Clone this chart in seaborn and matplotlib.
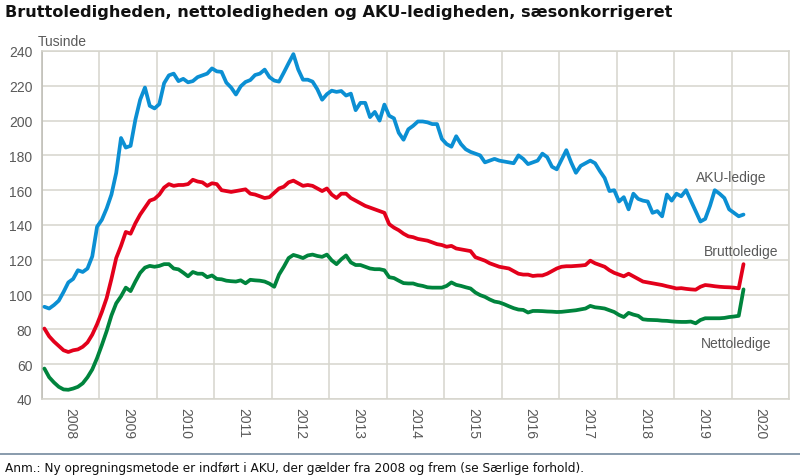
import numpy as np
import pandas as pd
import matplotlib
matplotlib.use("Agg")
import matplotlib.pyplot as plt
import seaborn as sns

# monthly, seasonally adjusted, thousands (Jan 2008 - Mar 2020)
months = pd.period_range("2008-01", "2020-03", freq="M")

aku = [
    93, 92, 94, 96.5, 101.5, 107, 109, 114, 113, 115, 122, 139,
    143, 149.5, 157.5, 170, 190, 184.5, 185.5, 200.5, 212, 219, 208.5, 207,
    209.5, 221.5, 226, 227, 222.7, 224, 222, 222.7, 225, 226, 227, 230,
    228.3, 228, 221.8, 219, 215, 219.7, 222.2, 223.3, 226.2, 227, 229.3, 225,
    223, 222.4, 227.6, 233, 238.2, 229.4, 223.5, 223.5, 222.4, 218, 212, 215.2,
    217.2, 216.5, 217, 214.4, 215.5, 206, 210.2, 210.2, 202, 205, 200, 209.2,
    202.8, 201.3, 193, 189, 195, 197, 199.5, 199.5, 199, 198, 198, 189.5,
    186.5, 185, 191, 186.5, 183.5, 182, 181, 180, 176, 177, 178, 177,
    176.5, 176, 175.5, 180, 178, 175, 176, 177, 181, 179, 173.5, 172,
    177.5, 183, 176, 170, 174, 175.5, 177, 175.5, 171, 167, 159.5, 160,
    153.5, 156, 149, 158, 155, 154, 153.5, 147, 148, 145, 157.5, 154,
    158, 156.5, 160, 154, 148, 142, 143.5, 151, 160, 158, 155.5, 149,
    147, 145, 146,
]

brutto = [
    80.5, 76, 73, 70.5, 68, 67, 68, 68.5, 70, 72.5, 77, 83,
    90, 98, 109, 121, 128, 136, 135, 141, 146, 150, 154, 155,
    157.5, 161.5, 163.5, 162.5, 163, 163, 163.5, 166, 165, 164.5, 162.5, 164,
    163.5, 160, 159.5, 159, 159.5, 160, 160.5, 158, 157.5, 156.5, 155.5, 156,
    158.5, 161, 162, 164.5, 165.5, 164, 162.5, 163, 162.5, 161, 159.5, 161,
    157.5, 155.5, 158, 158, 155.5, 154, 152.5, 151, 150, 149, 148, 147,
    140.5, 138.5, 137, 135, 133.5, 133, 132, 131.5, 131, 130, 129, 128.5,
    127.5, 128, 126.5, 126, 125.5, 125, 121.5, 120.5, 119.5, 118, 117, 116,
    115.5, 115, 113.5, 112, 111.5, 111.5, 110.7, 111, 111, 112, 113.5, 115,
    116, 116.3, 116.3, 116.5, 116.7, 117, 119.5, 118, 117, 116, 114, 112.5,
    111.5, 110.5, 112, 110.5, 109, 107.5, 107, 106.5, 106, 105.5, 104.8, 104.2,
    103.5, 103.7, 103.3, 103, 102.8, 104.5, 105.5, 105.2, 104.8, 104.5, 104.3, 104.2,
    104, 103.6, 117.5,
]

netto = [
    57.5, 52.5, 49.5, 47, 45.5, 45.3, 46, 47, 49, 52.5, 57, 63.5,
    71, 79, 88, 95, 99, 104, 102, 107.5, 112.5, 115.5, 116.5, 116,
    116.5, 117.5, 117.5, 115, 114.5, 112.6, 110.5, 113, 112, 112, 110, 111,
    109, 108.8, 108, 107.7, 107.5, 108.2, 106.5, 108.5, 108.2, 108, 107.5, 106.3,
    104.5, 111.5, 116, 121, 122.8, 122, 121, 122.5, 123, 122.2, 121.7, 123,
    119.7, 117.5, 120.3, 122.5, 118.5, 117, 117, 116, 115, 114.6, 114.6, 114,
    110, 109.5, 108, 106.6, 106.4, 106.4, 105.5, 105, 104.2, 104, 104, 104,
    105, 107, 105.6, 105, 104.2, 103.5, 101.2, 99.7, 98.7, 97.2, 96, 95.5,
    94.5, 93.3, 92.2, 91.4, 91.2, 89.7, 90.6, 90.6, 90.5, 90.3, 90.2, 90,
    90.1, 90.4, 90.7, 91, 91.5, 92, 93.5, 92.7, 92.4, 92, 91, 90,
    88.3, 87.1, 89.5, 88.5, 87.8, 85.8, 85.5, 85.4, 85.3, 85, 84.9, 84.6,
    84.4, 84.3, 84.3, 84.5, 83.5, 85.4, 86.4, 86.4, 86.4, 86.4, 86.6, 87.1,
    87.4, 87.8, 103,
]

years = list(range(2008, 2021))
yticks = list(range(40, 241, 20))

colors = {"AKU-ledige": "#0b8fd3", "Bruttoledige": "#e3001b", "Nettoledige": "#00843d"}
text_col = "#595959"
grid_col = "#d6d5cd"

# month placed in the middle of its slot on a year axis
xpos = months.year + (months.month - 0.5) / 12

df = pd.concat([
    pd.DataFrame({"x": xpos, "value": aku, "serie": "AKU-ledige"}),
    pd.DataFrame({"x": xpos, "value": brutto, "serie": "Bruttoledige"}),
    pd.DataFrame({"x": xpos, "value": netto, "serie": "Nettoledige"}),
])

sns.set_theme(style="white")
plt.rcParams["font.family"] = ["Liberation Sans", "DejaVu Sans"]

fig = plt.figure(figsize=(8, 4.77), dpi=100)
ax = fig.add_axes([42 / 800, 1 - 400 / 477, 747 / 800, 348 / 477])

sns.lineplot(data=df, x="x", y="value", hue="serie", palette=colors,
             linewidth=2.7, legend=False, ax=ax, zorder=3,
             solid_capstyle="round", solid_joinstyle="round")

ax.set_xlim(2008, 2021)
ax.set_ylim(40, 240)
ax.set_yticks(yticks)
ax.set_xticks(range(2008, 2022))
ax.set_xticklabels([])
ax.set_xticks([y + 0.5 for y in years], minor=True)
ax.set_xticklabels([str(y) for y in years], minor=True, rotation=270)
ax.grid(True, which="major", color=grid_col, linewidth=1.1, zorder=0)
ax.tick_params(axis="both", which="both", length=0, colors=text_col, labelsize=10)
ax.tick_params(axis="y", pad=7)
ax.tick_params(axis="x", which="minor", pad=6)
ax.set_xlabel("")
ax.set_ylabel("")
for side, sp in ax.spines.items():
    sp.set_visible(True)
    sp.set_color(grid_col)
    sp.set_linewidth(1.1)
ax.spines["left"].set_color("#bdbcb4")

ax.text(-0.006, 1.03, "Tusinde", transform=ax.transAxes, ha="left", va="center",
        fontsize=10, color=text_col)

ax.text(2020.0, 167.5, "AKU-ledige", ha="center", va="center", fontsize=10, color=text_col)
ax.text(2020.17, 125, "Bruttoledige", ha="center", va="center", fontsize=10, color=text_col)
ax.text(2020.08, 72, "Nettoledige", ha="center", va="center", fontsize=10, color=text_col)

fig.text(5 / 800, 1 - 13 / 477,
         "Bruttoledigheden, nettoledigheden og AKU-ledigheden, sæsonkorrigeret",
         ha="left", va="center", fontsize=11.6, fontweight="bold", color="#111111",
         family="DejaVu Sans")

fig.add_artist(plt.Line2D([0, 1], [1 - 455 / 477] * 2, color="#7f93a6", linewidth=1.3))
fig.text(5 / 800, 1 - 469 / 477,
         "Anm.: Ny opregningsmetode er indført i AKU, der gælder fra 2008 og frem (se Særlige forhold).",
         ha="left", va="center", fontsize=8.7, color="#111111", family="DejaVu Sans")

fig.savefig("out.png", dpi=100)
